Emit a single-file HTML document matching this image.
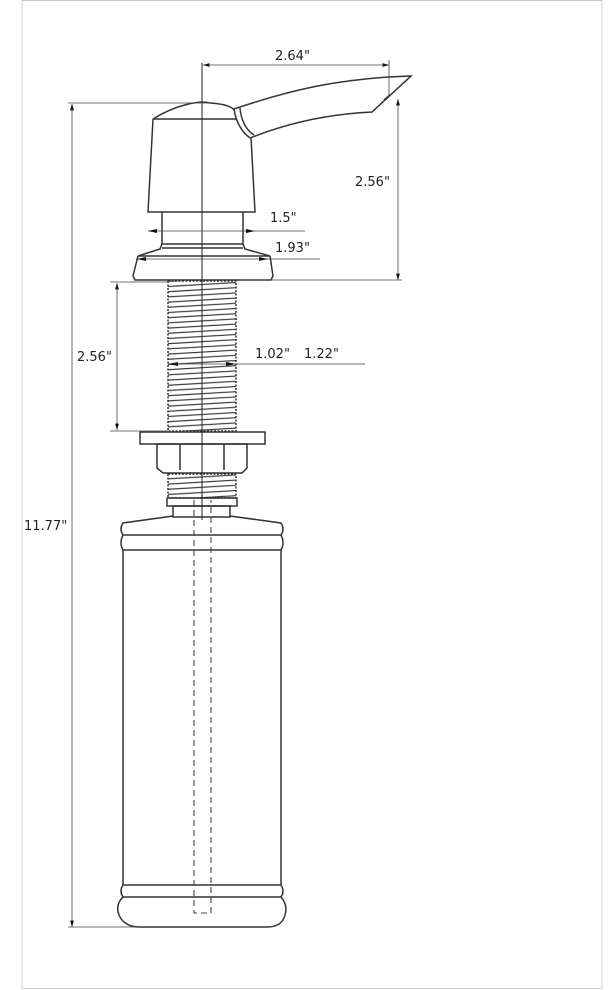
<!DOCTYPE html>
<html><head><meta charset="utf-8"><style>
html,body{margin:0;padding:0;background:#fff;}
svg{display:block}
text{font-family:"DejaVu Sans","Liberation Sans",sans-serif;font-size:13px;fill:#222;}
</style></head><body>
<svg width="614" height="990" viewBox="0 0 614 990" xmlns="http://www.w3.org/2000/svg">
<defs>
<pattern id="thr" patternUnits="userSpaceOnUse" x="168" width="68" height="5.2" y="282">
<line x1="0" y1="4.5" x2="68" y2="0.5" stroke="#333" stroke-width="1.1"/>
</pattern>
<marker id="ar" viewBox="0 0 10 10" refX="10" refY="5" markerWidth="8" markerHeight="8" orient="auto-start-reverse"><path d="M0,2 L10,5 L0,8z" fill="#111"/></marker>
</defs>
<rect x="22" y="0.5" width="580" height="988" fill="none" stroke="#ccc" stroke-width="1"/>
<g fill="none" stroke="#333" stroke-width="1.5">
<path d="M234,109 C290,90 340,78 411,76 L372,112 C330,114 290,122 250,138"/>
<path d="M384,100 L390,95"/>
<path d="M234,109 C236,122 242,132 250,138"/>
<path d="M240,108 C241,120 246,130 254,135"/>
<path d="M153,119 C175,105 200,100 210,103 C225,104 232,107 234,110"/>
<line x1="153" y1="119" x2="236" y2="119"/>
<path d="M153,119 L148,212 L255,212 L251,137"/>
<path d="M162,212 L162,244 L243,244 L243,212"/>
<line x1="162" y1="248" x2="243" y2="248"/>
<path d="M162,244 L160,249 L138,256 L270,256 L245,249 L243,244"/>
<path d="M138,256 L133,276 L135,280 L271,280 L273,276 L270,256"/>
<rect x="168" y="281" width="68" height="150" fill="url(#thr)" stroke="#333" stroke-dasharray="2 1.5"/>
<rect x="140" y="432" width="125" height="12"/>
<path d="M157,444 L157,468 L163,473 L242,473 L247,468 L247,444 Z"/>
<line x1="180" y1="444" x2="180" y2="470"/><line x1="224" y1="444" x2="224" y2="470"/>
<rect x="168" y="474" width="68" height="24" fill="url(#thr)" stroke-dasharray="2 1.5"/>
<rect x="167" y="498" width="70" height="8"/>
<rect x="173" y="506" width="57" height="11"/>
<path d="M173,516 L123,523 Q119,529 123,535 L281,535 Q285,529 281,523 L230,516"/>
<path d="M123,535 Q119,543 123,550 L281,550 Q285,543 281,535"/>
<line x1="123" y1="550" x2="123" y2="885"/><line x1="281" y1="550" x2="281" y2="885"/>
<path d="M123,885 Q119,891 123,897 L281,897 Q285,891 281,885 Z"/>
<path d="M123,897 Q115,905 119,915 Q124,927 140,927 L267,927 Q282,927 285,915 Q288,905 281,897"/>
</g>
<g fill="none" stroke="#444" stroke-width="1.1" stroke-dasharray="6 4">
<path d="M194,500 L194,913 L211,913 L211,500"/>
</g>
<line x1="202" y1="63" x2="202" y2="445" stroke="#222" stroke-width="1"/>
<line x1="202" y1="440" x2="202" y2="520" stroke="#222" stroke-width="1"/>
<g stroke="#444" stroke-width="0.8" fill="none">
<line x1="203" y1="65" x2="389" y2="65" marker-start="url(#ar)" marker-end="url(#ar)"/>
<line x1="389" y1="60" x2="389" y2="95"/>
<line x1="398" y1="99" x2="398" y2="280" marker-start="url(#ar)" marker-end="url(#ar)"/>
<line x1="240" y1="280" x2="402" y2="280"/>
<line x1="148" y1="231" x2="305" y2="231"/>
<line x1="136" y1="259" x2="320" y2="259"/>
<line x1="72" y1="104" x2="72" y2="927" marker-start="url(#ar)" marker-end="url(#ar)"/>
<line x1="68" y1="103" x2="210" y2="103"/>
<line x1="68" y1="927" x2="140" y2="927"/>
<line x1="117" y1="283" x2="117" y2="430" marker-start="url(#ar)" marker-end="url(#ar)"/>
<line x1="110" y1="282" x2="168" y2="282"/>
<line x1="110" y1="431" x2="168" y2="431"/>
<line x1="168" y1="364" x2="365" y2="364"/>
</g>
<g fill="#111">
<path d="M148,231 l9,-2 v4z"/><path d="M255,231 l-9,-2 v4z"/>
<path d="M137,259 l9,-2 v4z"/><path d="M268,259 l-9,-2 v4z"/>
<path d="M168,364 l10,-2 v4z"/><path d="M236,364 l-10,-2 v4z"/>
</g>
<text x="275" y="60">2.64"</text>
<text x="355" y="186">2.56"</text>
<text x="270" y="222">1.5"</text>
<text x="275" y="252">1.93"</text>
<text x="77" y="361">2.56"</text>
<text x="255" y="358">1.02"</text>
<text x="304" y="358">1.22"</text>
<text x="24" y="530">11.77"</text>
</svg>
</body></html>
